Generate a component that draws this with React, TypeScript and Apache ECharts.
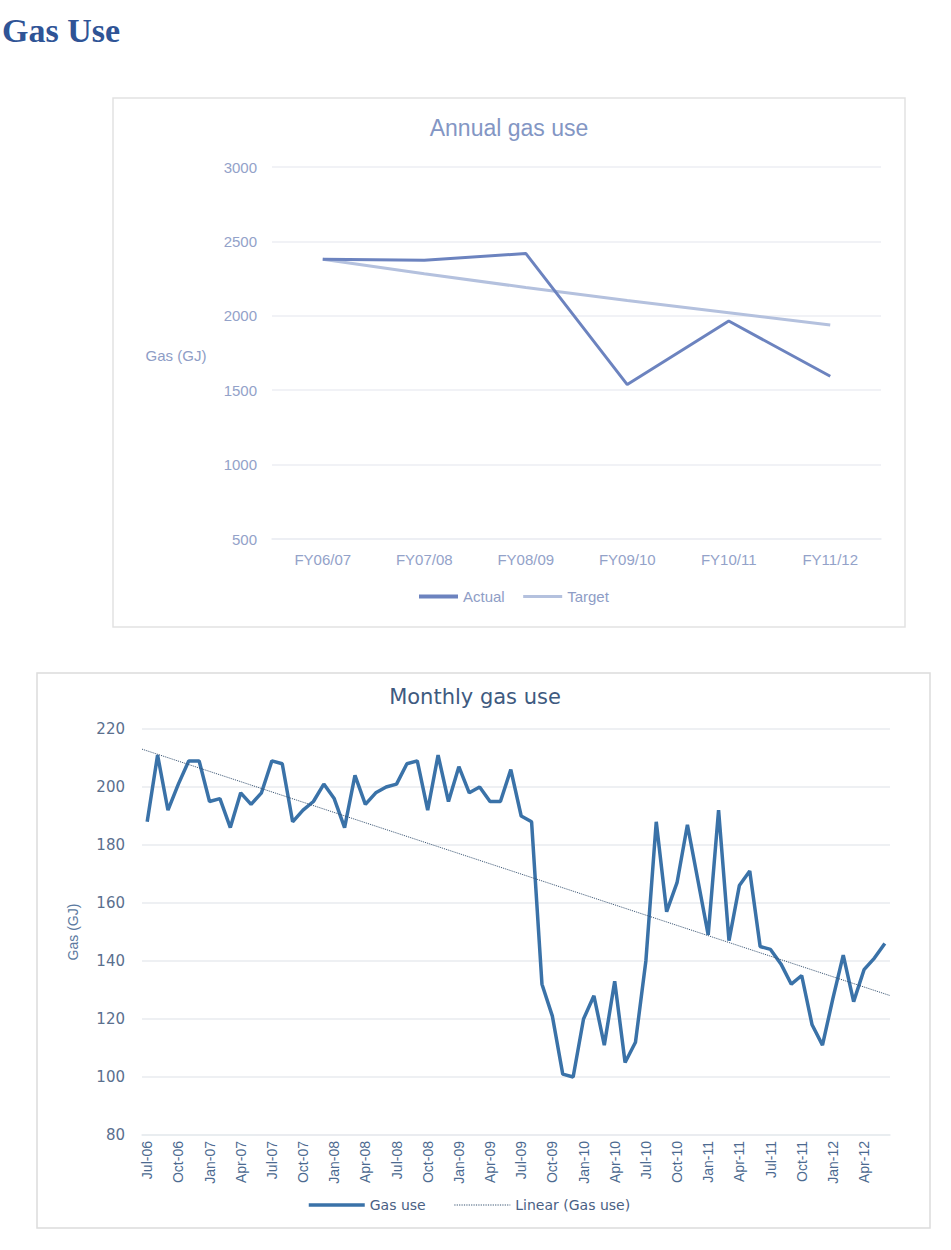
import React, { useEffect, useRef } from "react";
import * as echarts from "echarts";

// ---------- Data ----------
const fyCategories = ["FY06/07", "FY07/08", "FY08/09", "FY09/10", "FY10/11", "FY11/12"];
const annualActual = [2380, 2373, 2419, 1538, 1965, 1594];
const annualTarget = [2380, 2283, 2190, 2103, 2021, 1938];
const annualTicks = { min: 500, max: 3000, interval: 500 };

const monthCategories = [
  "Jul-06", "Aug-06", "Sep-06", "Oct-06", "Nov-06", "Dec-06", "Jan-07", "Feb-07", "Mar-07", "Apr-07", "May-07", "Jun-07",
  "Jul-07", "Aug-07", "Sep-07", "Oct-07", "Nov-07", "Dec-07", "Jan-08", "Feb-08", "Mar-08", "Apr-08", "May-08", "Jun-08",
  "Jul-08", "Aug-08", "Sep-08", "Oct-08", "Nov-08", "Dec-08", "Jan-09", "Feb-09", "Mar-09", "Apr-09", "May-09", "Jun-09",
  "Jul-09", "Aug-09", "Sep-09", "Oct-09", "Nov-09", "Dec-09", "Jan-10", "Feb-10", "Mar-10", "Apr-10", "May-10", "Jun-10",
  "Jul-10", "Aug-10", "Sep-10", "Oct-10", "Nov-10", "Dec-10", "Jan-11", "Feb-11", "Mar-11", "Apr-11", "May-11", "Jun-11",
  "Jul-11", "Aug-11", "Sep-11", "Oct-11", "Nov-11", "Dec-11", "Jan-12", "Feb-12", "Mar-12", "Apr-12", "May-12", "Jun-12",
];
const monthlyGas = [
  188, 211, 192, 201, 209, 209, 195, 196, 186, 198, 194, 198,
  209, 208, 188, 192, 195, 201, 196, 186, 204, 194, 198, 200,
  201, 208, 209, 192, 211, 195, 207, 198, 200, 195, 195, 206,
  190, 188, 132, 121, 101, 100, 120, 128, 111, 133, 105, 112,
  140, 188, 157, 167, 187, 168, 149, 192, 147, 166, 171, 145,
  144, 139, 132, 135, 118, 111, 127, 142, 126, 137, 141, 146,
];
const monthlyTicks = { min: 80, max: 220, interval: 20 };

// Least-squares linear trendline (as Excel's "Linear" trendline)
function linearFit(values: number[]) {
  const n = values.length;
  let sx = 0, sy = 0, sxx = 0, sxy = 0;
  values.forEach((y, x) => {
    sx += x; sy += y; sxx += x * x; sxy += x * y;
  });
  const slope = (n * sxy - sx * sy) / (n * sxx - sx * sx);
  const intercept = (sy - slope * sx) / n;
  return { slope, intercept };
}

export default function App() {
  const ref = useRef<HTMLDivElement>(null);

  useEffect(() => {
    if (!ref.current) return;
    const chart = echarts.init(ref.current, undefined, { renderer: "svg" });
    const fit = linearFit(monthlyGas);
    const x0 = -0.5;
    const x1 = monthlyGas.length - 0.5;
    const trendData = [
      [x0, fit.intercept + fit.slope * x0],
      [x1, fit.intercept + fit.slope * x1],
    ];

    const topFont = "Liberation Sans, Arial, sans-serif";
    const botFont = "DejaVu Sans, Verdana, sans-serif";

    chart.setOption({
      animation: false,
      backgroundColor: "#ffffff",
      graphic: [
        {
          type: "text",
          left: 2,
          top: 13,
          style: {
            text: "Gas Use",
            font: "bold 34px 'Liberation Serif', serif",
            fill: "#2f5496",
          },
        },
        {
          type: "rect",
          shape: { x: 113, y: 98, width: 792, height: 529 },
          style: { fill: "none", stroke: "#e2e2e2", lineWidth: 1.5 },
          silent: true,
        },
        {
          type: "rect",
          shape: { x: 37, y: 673, width: 893, height: 555 },
          style: { fill: "none", stroke: "#dcdcdc", lineWidth: 1.5 },
          silent: true,
        },
        {
          type: "text",
          x: 176,
          y: 355,
          style: {
            text: "Gas (GJ)",
            font: `15px ${topFont}`,
            fill: "#8e9dc6",
            align: "center",
            verticalAlign: "middle",
          },
        },
      ],
      title: [
        {
          text: "Annual gas use",
          left: 509,
          top: 116,
          textAlign: "center",
          padding: 0,
          textStyle: { fontFamily: topFont, fontSize: 23, fontWeight: "normal", color: "#8396c4" },
        },
        {
          text: "Monthly gas use",
          left: 475,
          top: 686,
          textAlign: "center",
          padding: 0,
          textStyle: { fontFamily: botFont, fontSize: 21, fontWeight: "normal", color: "#3e5a7f" },
        },
      ],
      legend: [
        {
          left: 417,
          top: 589,
          padding: 0,
          itemWidth: 39,
          itemHeight: 14,
          itemGap: 17,
          itemStyle: { opacity: 0 },
          data: [
            { name: "Actual", lineStyle: { width: 4 } },
            { name: "Target", lineStyle: { width: 3 } },
          ],
          textStyle: { fontFamily: topFont, fontSize: 15, color: "#8e9dc6" },
        },
        {
          left: 307,
          top: 1198,
          padding: 0,
          itemWidth: 56,
          itemHeight: 14,
          itemGap: 28,
          itemStyle: { opacity: 0 },
          data: [
            { name: "Gas use", lineStyle: { width: 3.5 } },
            { name: "Linear (Gas use)", lineStyle: { width: 1.2 } },
          ],
          textStyle: { fontFamily: botFont, fontSize: 14, color: "#4a6184" },
        },
      ],
      grid: [
        { left: 272, top: 167, width: 609, height: 372, containLabel: false },
        { left: 142, top: 729, width: 748, height: 406, containLabel: false },
      ],
      xAxis: [
        {
          type: "category",
          gridIndex: 0,
          data: fyCategories,
          boundaryGap: true,
          axisLine: { show: true, lineStyle: { color: "#eceef3", width: 1.5 } },
          axisTick: { show: false },
          axisLabel: { fontFamily: topFont, fontSize: 15, color: "#93a2c9", margin: 13 },
        },
        {
          type: "category",
          gridIndex: 1,
          data: monthCategories,
          boundaryGap: true,
          axisLine: { show: true, lineStyle: { color: "#e8ebef", width: 1.5 } },
          axisTick: { show: false },
          axisLabel: {
            interval: 2,
            rotate: 90,
            fontFamily: topFont,
            fontSize: 14,
            color: "#4c6a90",
            margin: 6,
          },
        },
        {
          type: "value",
          gridIndex: 1,
          min: x0,
          max: x1,
          show: false,
        },
      ],
      yAxis: [
        {
          type: "value",
          gridIndex: 0,
          min: annualTicks.min,
          max: annualTicks.max,
          interval: annualTicks.interval,
          axisLine: { show: false },
          axisTick: { show: false },
          splitLine: { lineStyle: { color: "#eceef3", width: 1.5 } },
          axisLabel: {
            fontFamily: topFont,
            fontSize: 15,
            color: "#93a2c9",
            margin: 15,
            formatter: (v: number) => String(v),
          },
        },
        {
          type: "value",
          gridIndex: 1,
          min: monthlyTicks.min,
          max: monthlyTicks.max,
          interval: monthlyTicks.interval,
          name: "Gas (GJ)",
          nameLocation: "middle",
          nameGap: 62,
          nameTextStyle: { fontFamily: topFont, fontSize: 14, color: "#5b79a0" },
          axisLine: { show: false },
          axisTick: { show: false },
          splitLine: { lineStyle: { color: "#e8ebef", width: 1.5 } },
          axisLabel: {
            fontFamily: botFont,
            fontSize: 15,
            color: "#5a6f8e",
            margin: 17,
            formatter: (v: number) => String(v),
          },
        },
      ],
      series: [
        {
          name: "Actual",
          type: "line",
          xAxisIndex: 0,
          yAxisIndex: 0,
          data: annualActual,
          symbol: "none",
          lineStyle: { color: "#6c83bf", width: 3 },
          itemStyle: { color: "#6c83bf" },
          z: 3,
        },
        {
          name: "Target",
          type: "line",
          xAxisIndex: 0,
          yAxisIndex: 0,
          data: annualTarget,
          symbol: "none",
          lineStyle: { color: "#b4c1de", width: 3 },
          itemStyle: { color: "#b4c1de" },
          z: 2,
        },
        {
          name: "Gas use",
          type: "line",
          xAxisIndex: 1,
          yAxisIndex: 1,
          data: monthlyGas,
          symbol: "none",
          lineStyle: { color: "#3a72a8", width: 3.5 },
          itemStyle: { color: "#3a72a8" },
          z: 2,
        },
        {
          name: "Linear (Gas use)",
          type: "line",
          xAxisIndex: 2,
          yAxisIndex: 1,
          data: trendData,
          symbol: "none",
          lineStyle: { color: "#34506f", width: 1, type: "dotted" },
          itemStyle: { color: "#34506f" },
          z: 3,
        },
      ],
    });

    return () => chart.dispose();
  }, []);

  return (
    <div
      ref={ref}
      style={{ position: "absolute", left: 0, top: 0, width: 951, height: 1250 }}
    />
  );
}
